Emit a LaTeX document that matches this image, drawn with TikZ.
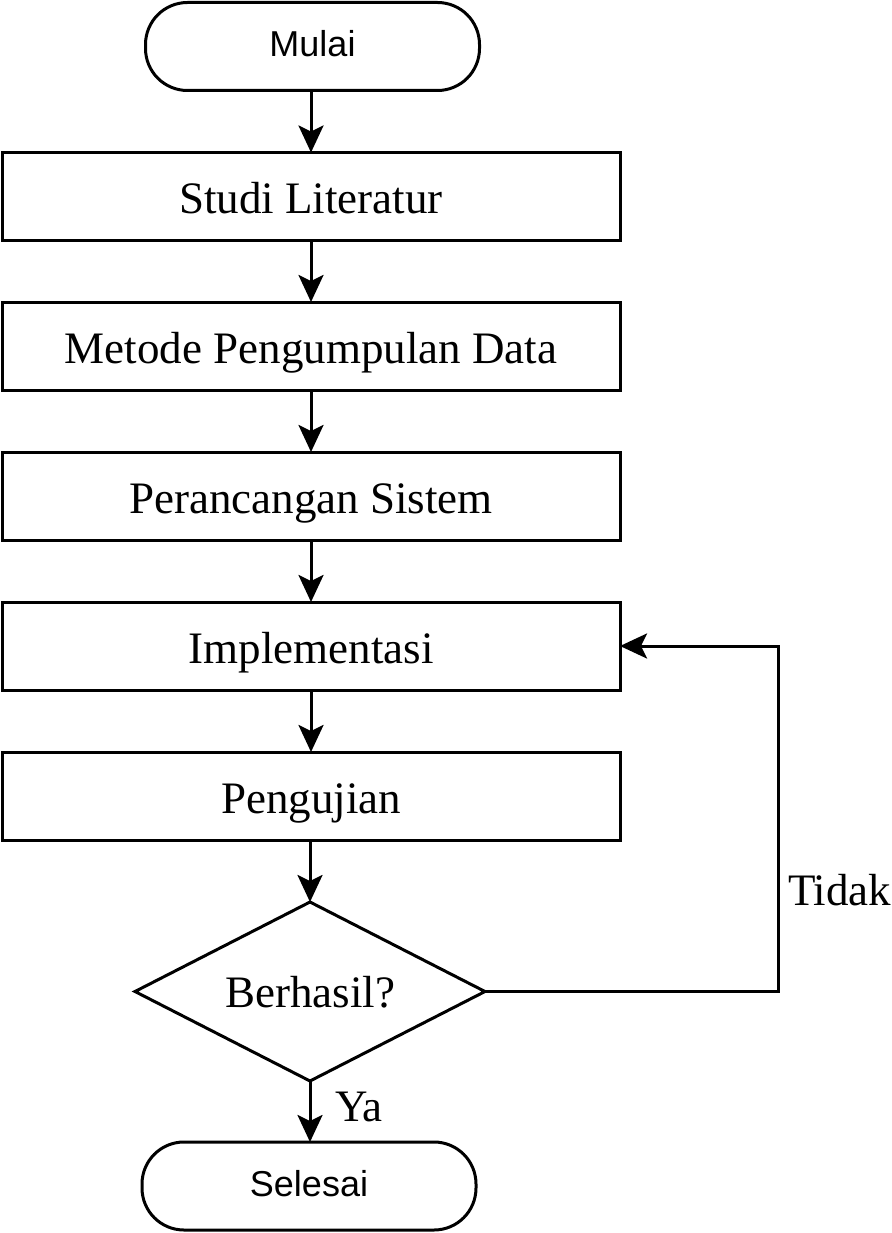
\documentclass[tikz,border=0pt]{standalone}
\usepackage{fontspec}
\setmainfont{Liberation Serif}
\newfontfamily\arialfont{Liberation Sans}
\usetikzlibrary{shapes.geometric,arrows.meta}
\begin{document}
\begin{tikzpicture}[x=1pt,y=-1pt,
  every node/.style={inner sep=0pt, outer sep=0pt},
  procbox/.style={draw, line width=3pt, rectangle, minimum width=618pt, minimum height=88pt, font=\fontsize{45}{50}\selectfont, text height=34pt, text depth=0pt},
  termbox/.style={draw, line width=3pt, rectangle, rounded corners=42pt, minimum width=334pt, minimum height=88pt, font=\arialfont\fontsize{36}{40}\selectfont, text height=20pt, text depth=0pt},
  decbox/.style={draw, line width=3pt, diamond, aspect=1.955, minimum width=350pt, minimum height=179pt, font=\fontsize{45}{50}\selectfont, text height=31pt, text depth=0pt},
  conn/.style={line width=3pt, -{Stealth[length=27pt, width=25pt, inset=6pt]}},
  lbl/.style={font=\fontsize{45}{50}\selectfont}
]
\useasboundingbox (0,0) rectangle (891,1233);
\node[termbox] (mulai) at (312.5,46.5) {Mulai};
\node[procbox] (studi) at (311,196.5) {Studi Literatur};
\node[procbox] (metode) at (311,346) {Metode Pengumpulan Data};
\node[procbox] (peran) at (311,496) {Perancangan Sistem};
\node[procbox] (impl) at (311,646) {Implementasi};
\node[procbox] (uji) at (311,796) {Pengujian};
\node[decbox] (dec) at (310,991.5) {Berhasil?};
\node[termbox] (selesai) at (309,1186) {Selesai};
\coordinate (c1) at (778,991.5);
\coordinate (c2) at (778,646);
\draw[conn] (mulai.south -| 311,0) -- (studi.north -| 311,0);
\draw[conn] (studi.south -| 311,0) -- (metode.north -| 311,0);
\draw[conn] (metode.south -| 311,0) -- (peran.north -| 311,0);
\draw[conn] (peran.south -| 311,0) -- (impl.north -| 311,0);
\draw[conn] (impl.south -| 311,0) -- (uji.north -| 311,0);
\draw[conn] (uji.south -| 310,0) -- (dec.north);
\draw[conn] (dec.south) -- (selesai.north -| dec.south);
\draw[conn] (dec.east) -- (c1) -- (c2) -- (impl.east);
\node[lbl, anchor=base west] (tidak) at (788,905) {Tidak};
\node[lbl, anchor=base west] (ya) at (335,1121) {Ya};
\end{tikzpicture}
\end{document}
